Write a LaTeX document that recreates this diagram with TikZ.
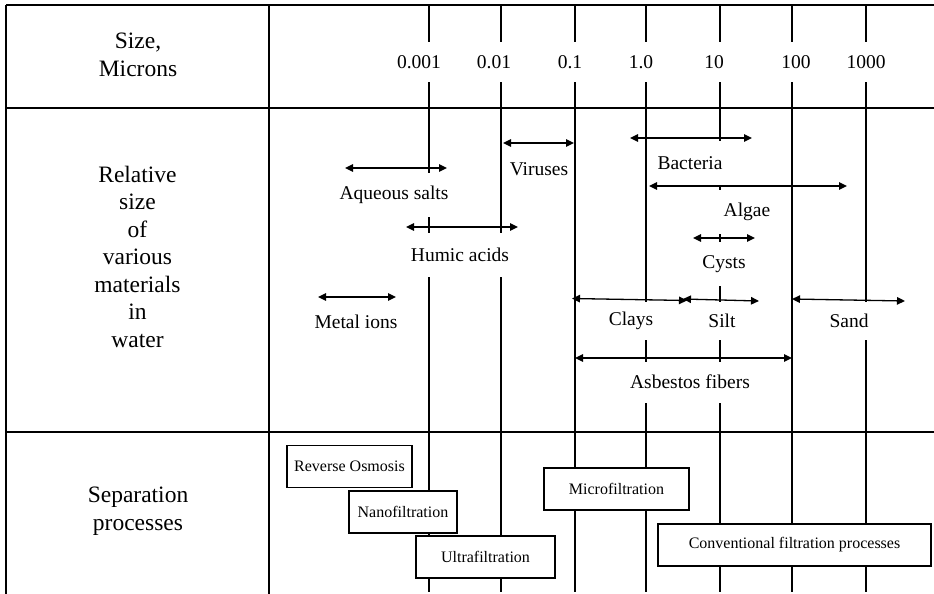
\documentclass[tikz,border=0pt]{standalone}
\usepackage{fontspec}
\setmainfont{Liberation Serif}
\usetikzlibrary{arrows.meta}

\begin{document}
\begin{tikzpicture}[x=1pt,y=-1pt,
  frame/.style={line width=1.4pt},
  tick/.style={line width=1.2pt},
  lbl/.style={fill=white,inner xsep=4pt,inner ysep=0pt,minimum height=44pt,font=\fontsize{19.5}{22}\selectfont},
  hdr/.style={align=center,font=\fontsize{23.5}{27.5}\selectfont},
  proc/.style={draw,line width=1.2pt,fill=white,inner sep=0pt,minimum height=42pt,font=\fontsize{16}{18}\selectfont},
  sizerange/.style={line width=1.3pt,{Triangle[length=8pt,width=7.5pt]}-{Triangle[length=8pt,width=7.5pt]}}]
\useasboundingbox (0,0) rectangle (934,594);
% table frame
\draw[frame] (6,5) -- (934,5);
\draw[frame] (6,108) -- (934,108);
\draw[frame] (6,432) -- (934,432);
\draw[frame] (6,5) -- (6,594);
\draw[frame] (269,5) -- (269,594);
% size grid
\foreach \x in {429,501,575,646,720,792,866}
  \draw[tick] (\x,5) -- (\x,592);
\foreach \x/\t [count=\i] in {419/0.001, 494/0.01, 570/0.1, 641/1.0, 714/10, 796/100, 866/1000}
  \node[lbl,minimum height=40pt] (s\i) at (\x,62) {\t};
% row headings
\node[hdr] (size) at (138,55) {Size,\\Microns};
\node[hdr] (rel) at (137.5,256.5) {Relative\\size\\of\\various\\materials\\in\\water};
\node[hdr] (sep) at (138,511) {Separation\\processes};
% materials
\node[lbl] (aq) at (394,195) {Aqueous salts};
\node[lbl] (hum) at (460,255) {Humic acids};
\node[lbl] (vir) at (539,169) {Viruses};
\node[lbl] (met) at (356,322) {Metal ions};
\node[lbl] (bac) at (690,163) {Bacteria};
\node[lbl,inner xsep=5pt] (alg) at (747,212) {Algae};
\node[lbl] (cys) at (724,264) {Cysts};
\node[lbl,minimum height=38pt] (cla) at (631,321) {Clays};
\node[lbl,minimum height=38pt] (sil) at (722,321) {Silt};
\node[lbl,minimum height=38pt] (san) at (849,321) {Sand};
\node[lbl,minimum height=41pt] (asb) at (690,382) {Asbestos fibers};
\foreach \nm/\xa/\ya/\xb/\yb in {aq/345/168/447/168, hum/406/227/518/227, vir/503/143/574/143,
    met/318/297/396/297, bac/630/138/752/138, alg/649/186/847/186, cys/693/238/755/238,
    cla/572/298.5/687/300.5, sil/683/299/759/301, san/792/299/905/301, asb/575/358/792/358} {
  \coordinate (\nm-l) at (\xa,\ya);
  \coordinate (\nm-r) at (\xb,\yb);
  \draw[sizerange] (\nm-l) -- (\nm-r);
}
% processes
\node[proc,minimum width=125pt] (ro) at (349.5,466.5) {Reverse Osmosis};
\node[proc,minimum width=108pt] (nf) at (403,512) {Nanofiltration};
\node[proc,minimum width=139pt] (uf) at (485.5,557) {Ultrafiltration};
\node[proc,minimum width=145pt] (mf) at (616.5,489) {Microfiltration};
\node[proc,minimum width=273pt] (cf) at (794.5,545) {Conventional filtration processes};
\end{tikzpicture}
\end{document}
